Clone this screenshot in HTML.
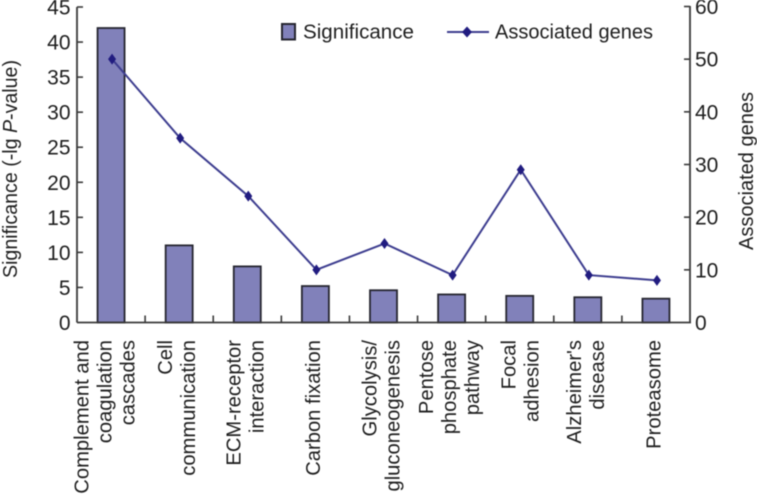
<!DOCTYPE html>
<html>
<head>
<meta charset="utf-8">
<style>
html,body{margin:0;padding:0;background:#fff;width:757px;height:494px;overflow:hidden}
svg{display:block;filter:blur(0.5px)}
text{font-family:"Liberation Sans",Arial,sans-serif;fill:#1e1e1e}
</style>
</head>
<body>
<svg id="chart" width="757" height="494" viewBox="0 0 757 494" xmlns="http://www.w3.org/2000/svg">
  <g>
    <rect x="282" y="24" width="13" height="15.5" fill="#8181ba" stroke="#262630" stroke-width="2"/>
    <text x="303" y="38.5" font-size="20" textLength="111" lengthAdjust="spacingAndGlyphs">Significance</text>
    <line x1="447" y1="32" x2="489" y2="32" stroke="#3d3d8f" stroke-width="2"/>
    <polygon points="467,26.5 472,32 467,37.5 462,32" fill="#211c80"/>
    <text x="495" y="38.5" font-size="20" textLength="158" lengthAdjust="spacingAndGlyphs">Associated genes</text>
  </g>
  <text transform="translate(17,169) rotate(-90)" text-anchor="middle" font-size="20" textLength="218" lengthAdjust="spacingAndGlyphs">Significance (-lg <tspan font-style="italic">P</tspan>-value)</text>
  <text transform="translate(747,171) rotate(-90)" text-anchor="middle" font-size="20" dy="6" textLength="158" lengthAdjust="spacingAndGlyphs">Associated genes</text>
</svg>
<script>
const categories = [
  ["Complement and", "coagulation", "cascades"],
  ["Cell", "communication"],
  ["ECM-receptor", "interaction"],
  ["Carbon fixation"],
  ["Glycolysis/", "gluconeogenesis"],
  ["Pentose", "phosphate", "pathway"],
  ["Focal", "adhesion"],
  ["Alzheimer's", "disease"],
  ["Proteasome"]
];
const significance = [42, 11, 8, 5.2, 4.6, 4, 3.8, 3.6, 3.4];
const associatedGenes = [50, 35, 24, 10, 15, 9, 29, 9, 8];
const leftTicks = [0, 5, 10, 15, 20, 25, 30, 35, 40, 45];
const rightTicks = [0, 10, 20, 30, 40, 50, 60];

const svg = document.getElementById('chart');
const NS = 'http://www.w3.org/2000/svg';
const plot = { left: 77, right: 690, base: 322.5, top: 7 };
const band = (plot.right - plot.left) / categories.length;
const xCenter = i => plot.left + band * (i + 0.5);
const yLeft = v => plot.base - (v / 45) * (plot.base - plot.top);
const yRight = v => plot.base - (v / 60) * (plot.base - plot.top + 0.5);

function make(tag, attrs) {
  const el = document.createElementNS(NS, tag);
  for (const k in attrs) el.setAttribute(k, attrs[k]);
  svg.appendChild(el);
  return el;
}

significance.forEach((v, i) => {
  const bar = make('rect', { x: xCenter(i) - 13.5, y: yLeft(v), width: 27, height: plot.base - yLeft(v), fill: '#8181ba', stroke: '#262630', 'stroke-width': 1.8 });
  
  
});

const axisColor = '#3a3a3a';
const leftAxis = make('line', { x1: plot.left, y1: plot.top, x2: plot.left, y2: plot.base, stroke: axisColor, 'stroke-width': 1.8 });


const rightAxis = make('line', { x1: plot.right, y1: 6, x2: plot.right, y2: plot.base, stroke: axisColor, 'stroke-width': 1.8 });


const xAxis = make('line', { x1: plot.left, y1: plot.base, x2: plot.right + 1, y2: plot.base, stroke: axisColor, 'stroke-width': 1.8 });



leftTicks.forEach(v => {
  const y = yLeft(v);
  if (v > 0) {
    const t = make('line', { x1: plot.left, y1: y, x2: plot.left + 6, y2: y, stroke: axisColor, 'stroke-width': 1.6 });
    
    
  }
  const label = make('text', { x: 70.5, y: y + 7.5, 'text-anchor': 'end', 'font-size': 21 });
  label.textContent = v;
  
  
});

rightTicks.forEach(v => {
  const y = yRight(v);
  if (v > 0) {
    const t = make('line', { x1: plot.right - 6, y1: y, x2: plot.right, y2: y, stroke: axisColor, 'stroke-width': 1.6 });
    
    
  }
  const label = make('text', { x: 695, y: y + 7.5, 'text-anchor': 'start', 'font-size': 21 });
  label.textContent = v;
  
  
});

for (let i = 1; i < categories.length; i++) {
  const x = plot.left + band * i;
  const t = make('line', { x1: x, y1: plot.base - 7, x2: x, y2: plot.base, stroke: axisColor, 'stroke-width': 1.6 });
  
  
}

const path = make('polyline', {
  points: associatedGenes.map((v, i) => (xCenter(i) + 1) + ',' + yRight(v)).join(' '),
  fill: 'none', stroke: '#3d3d8f', 'stroke-width': 2
});



associatedGenes.forEach((v, i) => {
  const x = xCenter(i) + 1, y = yRight(v);
  const m = make('polygon', {
    points: [[x, y - 5.5], [x + 4, y], [x, y + 5.5], [x - 4, y]].map(p => p.join(',')).join(' '),
    fill: '#211c80'
  });
  
  
});

const lineGap = 23;
categories.forEach((lines, i) => {
  const nudge = i === 0 ? -6 : i === 6 ? 1 : -2;
  lines.forEach((line, j) => {
    const x = xCenter(i) + nudge + lineGap * (j - (lines.length - 1) / 2);
    const label = make('text', {
      transform: 'translate(' + (x + 6.5) + ',340) rotate(-90)',
      'text-anchor': 'end', 'font-size': 20.2
    });
    label.textContent = line;
    
    
  });
});
</script>
</body>
</html>
